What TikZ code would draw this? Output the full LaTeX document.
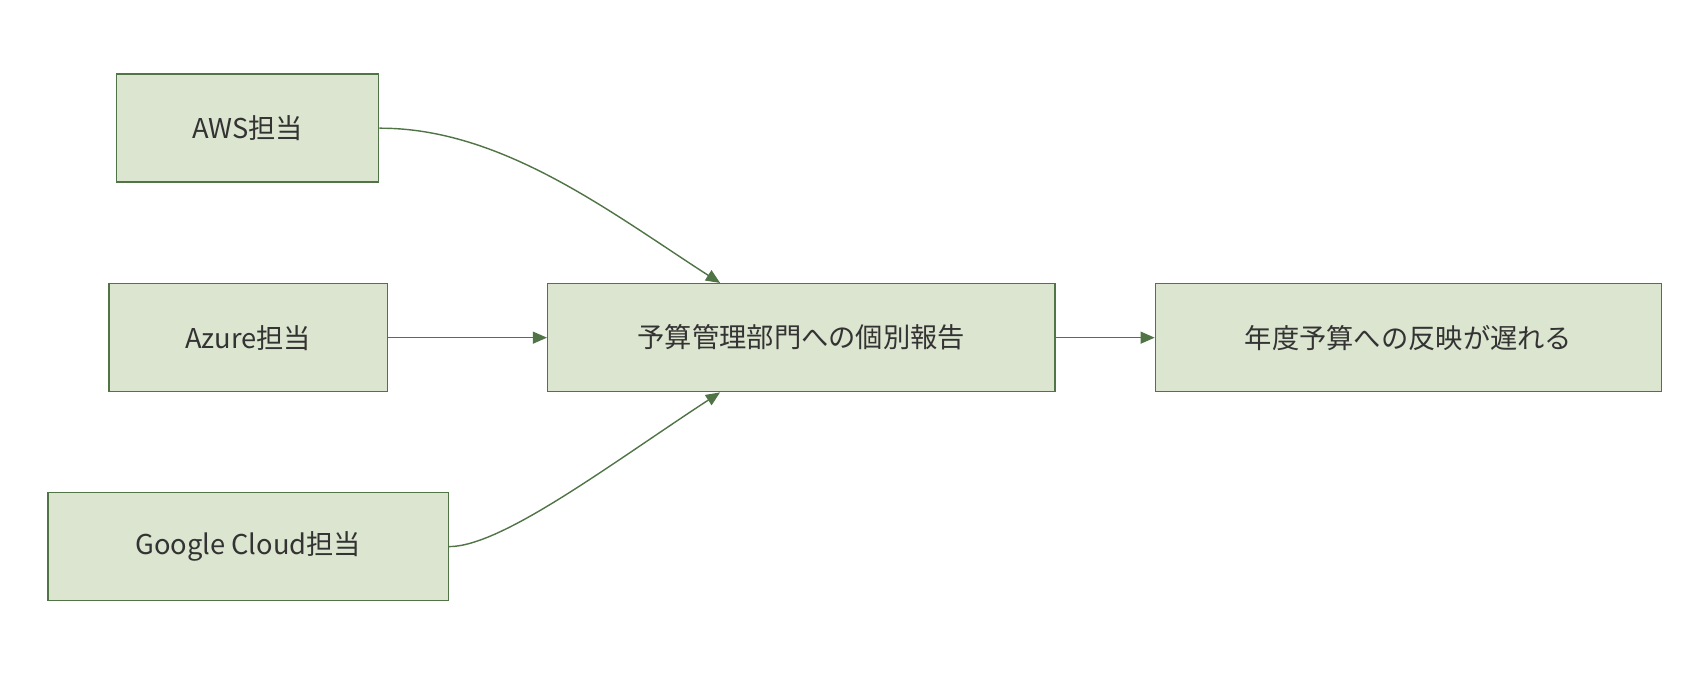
\documentclass[tikz,border=0pt]{standalone}
\usepackage{fontspec}
\setmainfont{Noto Sans CJK JP}
\usetikzlibrary{arrows.meta}
\definecolor{bfill}{HTML}{DCE5CF}
\definecolor{bdraw}{HTML}{517447}
\definecolor{tcol}{HTML}{333333}
\begin{document}
\begin{tikzpicture}[x=1pt,y=-1pt,
  box/.style={draw=bdraw,fill=bfill,line width=1.3pt,minimum height=99pt,inner sep=0pt,text=tcol,font=\fontsize{25}{30}\selectfont},
  arr/.style={draw=bdraw,line width=1.3pt,-{Triangle[length=13pt,width=11pt]}}]
\useasboundingbox (0,0) rectangle (1560,620);
\node[box,minimum width=240pt] (aws) at (227,117.5) {AWS担当};
\node[box,minimum width=255pt] (az) at (227.5,309.5) {Azure担当};
\node[box,minimum width=367pt] (gc) at (227.5,501) {Google Cloud担当};
\node[box,minimum width=465pt] (mid) at (734.5,309.5) {予算管理部門への個別報告};
\node[box,minimum width=464pt] (res) at (1291,309.5) {年度予算への反映が遅れる};
\draw[arr] (aws.east) .. controls (460,117) and (560,195) .. (mid.north west -| 660,0);
\draw[arr] (az.east) -- (mid.west);
\draw[arr] (gc.east) .. controls (460,501) and (560,425) .. (mid.south west -| 660,0);
\draw[arr] (mid.east) -- (res.west);
\end{tikzpicture}
\end{document}
